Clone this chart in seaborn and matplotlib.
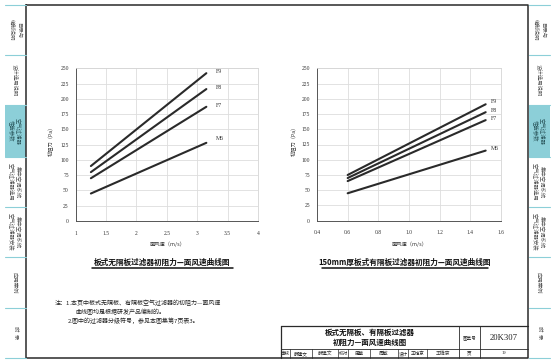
import matplotlib
matplotlib.use("Agg")
import matplotlib.pyplot as plt
import pandas as pd
import seaborn as sns

# ---------------- data ----------------
grades = ["F9", "F8", "F7", "M6"]

left_speed = [1.25, 3.15]
left_F9 = [90, 242]
left_F8 = [80, 216]
left_F7 = [70, 187]
left_M6 = [45, 128]
left_xticks = [1, 1.5, 2, 2.5, 3, 3.5, 4]
left_xticklabels = ["1", "1.5", "2", "2.5", "3", "3.5", "4"]

right_speed = [0.6, 1.5]
right_F9 = [75, 191]
right_F8 = [70, 178]
right_F7 = [65, 165]
right_M6 = [45, 115]
right_xticks = [0.4, 0.6, 0.8, 1.0, 1.2, 1.4, 1.6]
right_xticklabels = ["0.4", "0.6", "0.8", "1.0", "1.2", "1.4", "1.6"]

yticks = [0, 25, 50, 75, 100, 125, 150, 175, 200, 225, 250]

left_title = "板式无隔板过滤器初阻力—面风速曲线图"
right_title = "150mm厚板式有隔板过滤器初阻力—面风速曲线图"
ylabel = "初阻力（Pa）"
xlabel = "面风速（m/s）"

notes = ["注：1.本页中板式无隔板、有隔板空气过滤器的初阻力—面风速",
         "曲线图均是根据研发产品编制的。",
         "2.图中的过滤器分级符号，参见本图集第7页表3。"]

tabs = ["目录与\n编制说明", "设计选用说明", "空气过滤器\n性能参数",
        "集中空调系统\n空气过滤器选用", "集中空调系统\n空气过滤器安装",
        "应用案例", "附  录"]
active_tab = 2

block_title = "板式无隔板、有隔板过滤器\n初阻力—面风速曲线图"
atlas_no = "20K307"
page_no = "19"

# ---------------- style ----------------
sns.set_theme(style="white")
plt.rcParams["font.family"] = ["Noto Sans CJK SC", "DejaVu Sans"]

W, H = 555, 363
fig = plt.figure(figsize=(W / 100, H / 100), dpi=100)
fig.patch.set_facecolor("white")

bg = fig.add_axes([0, 0, 1, 1])
bg.set_xlim(0, W)
bg.set_ylim(H, 0)
bg.axis("off")

DARK = "#2a2a2a"
TEAL = "#8ccfd8"


def px_axes(x0, y0, x1, y1):
    return fig.add_axes([x0 / W, 1 - y1 / H, (x1 - x0) / W, (y1 - y0) / H])


def draw_chart(ax, speed, series, xlim, xticks, xticklabels, lab_dx, lab_dy):
    rows = []
    for g, vals in series.items():
        for s, v in zip(speed, vals):
            rows.append((g, s, v))
    df = pd.DataFrame(rows, columns=["grade", "speed", "pa"])
    sns.lineplot(data=df, x="speed", y="pa", hue="grade",
                 palette={g: DARK for g in series}, legend=False,
                 lw=1.5, ax=ax)
    ax.set_xlim(*xlim)
    ax.set_ylim(0, 250)
    ax.set_xticks(xticks)
    ax.set_xticklabels(xticklabels)
    ax.set_yticks(yticks)
    ax.grid(True, color="#dddddd", lw=0.6)
    ax.set_xlabel("")
    ax.set_ylabel("")
    ax.tick_params(axis="x", length=2, width=0.6, color="#555", pad=5,
                   labelsize=4, labelcolor="#333")
    ax.tick_params(axis="y", length=0, pad=5, labelsize=4, labelcolor="#333")
    for lbl in ax.get_xticklabels() + ax.get_yticklabels():
        lbl.set_fontfamily("Liberation Serif")
    for side in ["top", "right"]:
        ax.spines[side].set_color("#d5d5d5")
        ax.spines[side].set_linewidth(0.6)
    for side in ["left", "bottom"]:
        ax.spines[side].set_color("#555555")
        ax.spines[side].set_linewidth(0.7)
    for i, (g, vals) in enumerate(series.items()):
        ax.annotate(g, (speed[-1], vals[-1]), xytext=(lab_dx, lab_dy[i]),
                    textcoords="offset points", ha="left", va="center",
                    fontsize=4.2, color="#333", family="Liberation Serif")


axL = px_axes(75.7, 68.3, 258, 221)
draw_chart(axL, left_speed,
           dict(zip(grades, [left_F9, left_F8, left_F7, left_M6])),
           (1, 4), left_xticks, left_xticklabels, 6.7, [1, 1, 1, 3])
axR = px_axes(317, 68.3, 501, 220.7)
draw_chart(axR, right_speed,
           dict(zip(grades, [right_F9, right_F8, right_F7, right_M6])),
           (0.4, 1.6), right_xticks, right_xticklabels, 4.0, [2, 1.5, 1, 1.5])

for ax, cx in [(axL, 51), (axR, 294)]:
    bg.text(cx, 140, ylabel, rotation=90, ha="center", va="center",
            fontsize=3.8, color="#333")
bg.text(168, 244, xlabel, ha="center", va="center", fontsize=3.8, color="#333")
bg.text(410, 244, xlabel, ha="center", va="center", fontsize=3.8, color="#333")

# subtitles with underline
bg.text(162, 262, left_title, ha="center", va="center", fontsize=5.5,
        fontweight="bold", color="#111")
bg.plot([92, 233], [268, 268], color="#111", lw=1.1)
bg.text(405, 262, right_title, ha="center", va="center", fontsize=5.5,
        fontweight="bold", color="#111")
bg.plot([322, 488], [268, 268], color="#111", lw=1.1)

# notes
bg.text(55, 302.7, notes[0], ha="left", va="center", fontsize=4.3, color="#222")
bg.text(75, 311.7, notes[1], ha="left", va="center", fontsize=4.3, color="#222")
bg.text(68, 320.7, notes[2], ha="left", va="center", fontsize=4.3, color="#222")

# frame
fx0, fy0, fx1, fy1 = 26, 5, 528, 357.5
bg.plot([fx0, fx1, fx1, fx0, fx0], [fy0, fy0, fy1, fy1, fy0], color=DARK, lw=1.1)

# side tabs
tab_edges = [5, 55, 105, 157, 207, 257, 308, 357.5]
for side_x0, side_x1 in [(5, 25.5), (528.5, 550)]:
    for i, lab in enumerate(tabs):
        y0, y1 = tab_edges[i], tab_edges[i + 1]
        if i == active_tab:
            bg.add_patch(plt.Rectangle((side_x0, y0), side_x1 - side_x0, y1 - y0,
                                       facecolor=TEAL, edgecolor="none", zorder=0))
        bg.text((side_x0 + side_x1) / 2, (y0 + y1) / 2, lab, rotation=-90,
                ha="center", va="center", fontsize=3.9, linespacing=1.25,
                color="#2e5a60" if i == active_tab else "#555")
    for y in tab_edges:
        bg.plot([side_x0, side_x1], [y, y], color=TEAL, lw=0.8)

# title block
tb_x0, tb_y0, tb_ymid = 280.7, 325.7, 349.3
bg.plot([tb_x0, fx1], [tb_y0, tb_y0], color=DARK, lw=0.9)
bg.plot([tb_x0, tb_x0], [tb_y0, fy1], color=DARK, lw=0.9)
bg.plot([tb_x0, fx1], [tb_ymid, tb_ymid], color=DARK, lw=0.6)
for x in [459, 480]:
    bg.plot([x, x], [tb_y0, fy1], color=DARK, lw=0.6)
for x in [290, 311.7, 338.3, 348.3, 370, 398.3, 408.3, 426.7]:
    bg.plot([x, x], [tb_ymid, fy1], color=DARK, lw=0.5)

bg.text(369.8, 337.5, block_title, ha="center", va="center", fontsize=5.4,
        fontweight="bold", linespacing=1.35, color="#111")
bg.text(469.5, 337.5, "图集号", ha="center", va="center", fontsize=3.3, color="#222")
bg.text(504, 337.5, atlas_no, ha="center", va="center", fontsize=6.2,
        family="Liberation Serif", color="#222")
row_y = (tb_ymid + fy1) / 2
cells = [(285.3, "审核"), (300.8, "薛建文"), (343.3, "校对"), (359.2, "周敏"),
         (403.3, "设计"), (417.5, "王雄京"), (469.5, "页"), (504, page_no)]
for x, t in cells:
    bg.text(x, row_y, t, ha="center", va="center", fontsize=3.3, color="#222",
            family="Liberation Serif" if t.isdigit() else None)
for x, t in [(325, "薛建文"), (384, "周敏"), (443, "王雄京")]:
    bg.text(x, row_y, t, ha="center", va="center", fontsize=3.5, color="#333",
            style="italic")

fig.savefig("out.png", dpi=100, facecolor="white")
